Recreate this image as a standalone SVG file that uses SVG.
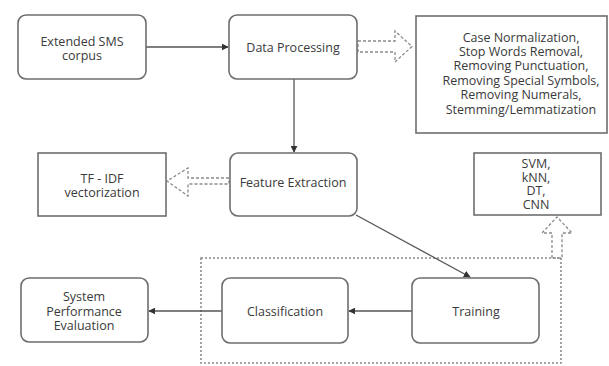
<svg xmlns="http://www.w3.org/2000/svg" width="609" height="366" viewBox="0 0 609 366">
<style>
.node{fill:#fff;stroke:#6e6e6e;stroke-width:1.6}
.t{font-family:"Open Sans","Noto Sans",sans-serif;font-size:12.5px;fill:#3a3a3a;text-anchor:middle;dominant-baseline:central}
.c{fill:none;stroke:#555;stroke-width:1.3}
.d{fill:none;stroke:#8a8a8a;stroke-width:1.3;stroke-dasharray:3,2}
.g{fill:none;stroke:#8a8a8a;stroke-width:1.6;stroke-dasharray:2,2}
</style>
<defs>
<marker id="ah" viewBox="0 0 10 10" refX="9" refY="5" markerWidth="7" markerHeight="7" orient="auto" markerUnits="userSpaceOnUse">
<path d="M0,0 L10,5 L0,10 z" fill="#333"/>
</marker>
</defs>
<rect class="g" x="201" y="258" width="360" height="105"/>
<g id="connectors">
<line class="c" x1="146" y1="47" x2="228" y2="47" marker-end="url(#ah)"/>
<line class="c" x1="294" y1="79" x2="294" y2="152" marker-end="url(#ah)"/>
<line class="c" x1="356" y1="215" x2="470" y2="277" marker-end="url(#ah)"/>
<line class="c" x1="412" y1="311" x2="349" y2="311" marker-end="url(#ah)"/>
<line class="c" x1="222" y1="311" x2="149" y2="311" marker-end="url(#ah)"/>
<polygon class="d" points="358,41 395,41 395,31 412,46.5 395,62 395,52 358,52"/>
<polygon class="d" points="229,178 188,178 188,168 167,181 188,196 188,184 229,184"/>
<polygon class="d" points="552,258 552,233 542,233 557,217 572,233 562,233 562,258"/>
</g>
<g id="n-sms"><rect class="node" x="18" y="15" width="128" height="64" rx="8"/><text class="t" x="82" y="41">Extended SMS</text><text class="t" x="82" y="55">corpus</text></g>
<g id="n-dp"><rect class="node" x="229" y="15" width="128" height="64" rx="8"/><text class="t" x="293" y="47">Data Processing</text></g>
<g id="n-pre"><rect class="node" x="416" y="16" width="191" height="117" rx="0"/>
<text class="t" x="521" y="37">Case Normalization,</text>
<text class="t" x="521" y="51.4">Stop Words Removal,</text>
<text class="t" x="521" y="65.8">Removing Punctuation,</text>
<text class="t" x="521" y="80.2">Removing Special Symbols,</text>
<text class="t" x="521" y="94.6">Removing Numerals,</text>
<text class="t" x="521" y="109">Stemming/Lemmatization</text></g>
<g id="n-tfidf"><rect class="node" x="38" y="153" width="128" height="63"/><text class="t" x="102" y="178">TF - IDF</text><text class="t" x="102" y="192">vectorization</text></g>
<g id="n-fe"><rect class="node" x="230" y="153" width="127" height="63" rx="8"/><text class="t" x="293" y="182">Feature Extraction</text></g>
<g id="n-alg"><rect class="node" x="474" y="153" width="127" height="62"/>
<text class="t" x="536" y="163">SVM,</text><text class="t" x="536" y="177">kNN,</text><text class="t" x="536" y="190.5">DT,</text><text class="t" x="536" y="204">CNN</text></g>
<g id="n-spe"><rect class="node" x="21" y="278" width="127" height="64" rx="8"/><text class="t" x="84" y="296">System</text><text class="t" x="84" y="311">Performance</text><text class="t" x="84" y="325">Evaluation</text></g>
<g id="n-cls"><rect class="node" x="222" y="278" width="126" height="65" rx="8"/><text class="t" x="285" y="311">Classification</text></g>
<g id="n-tr"><rect class="node" x="412" y="278" width="127" height="65" rx="8"/><text class="t" x="476" y="311">Training</text></g>
</svg>
